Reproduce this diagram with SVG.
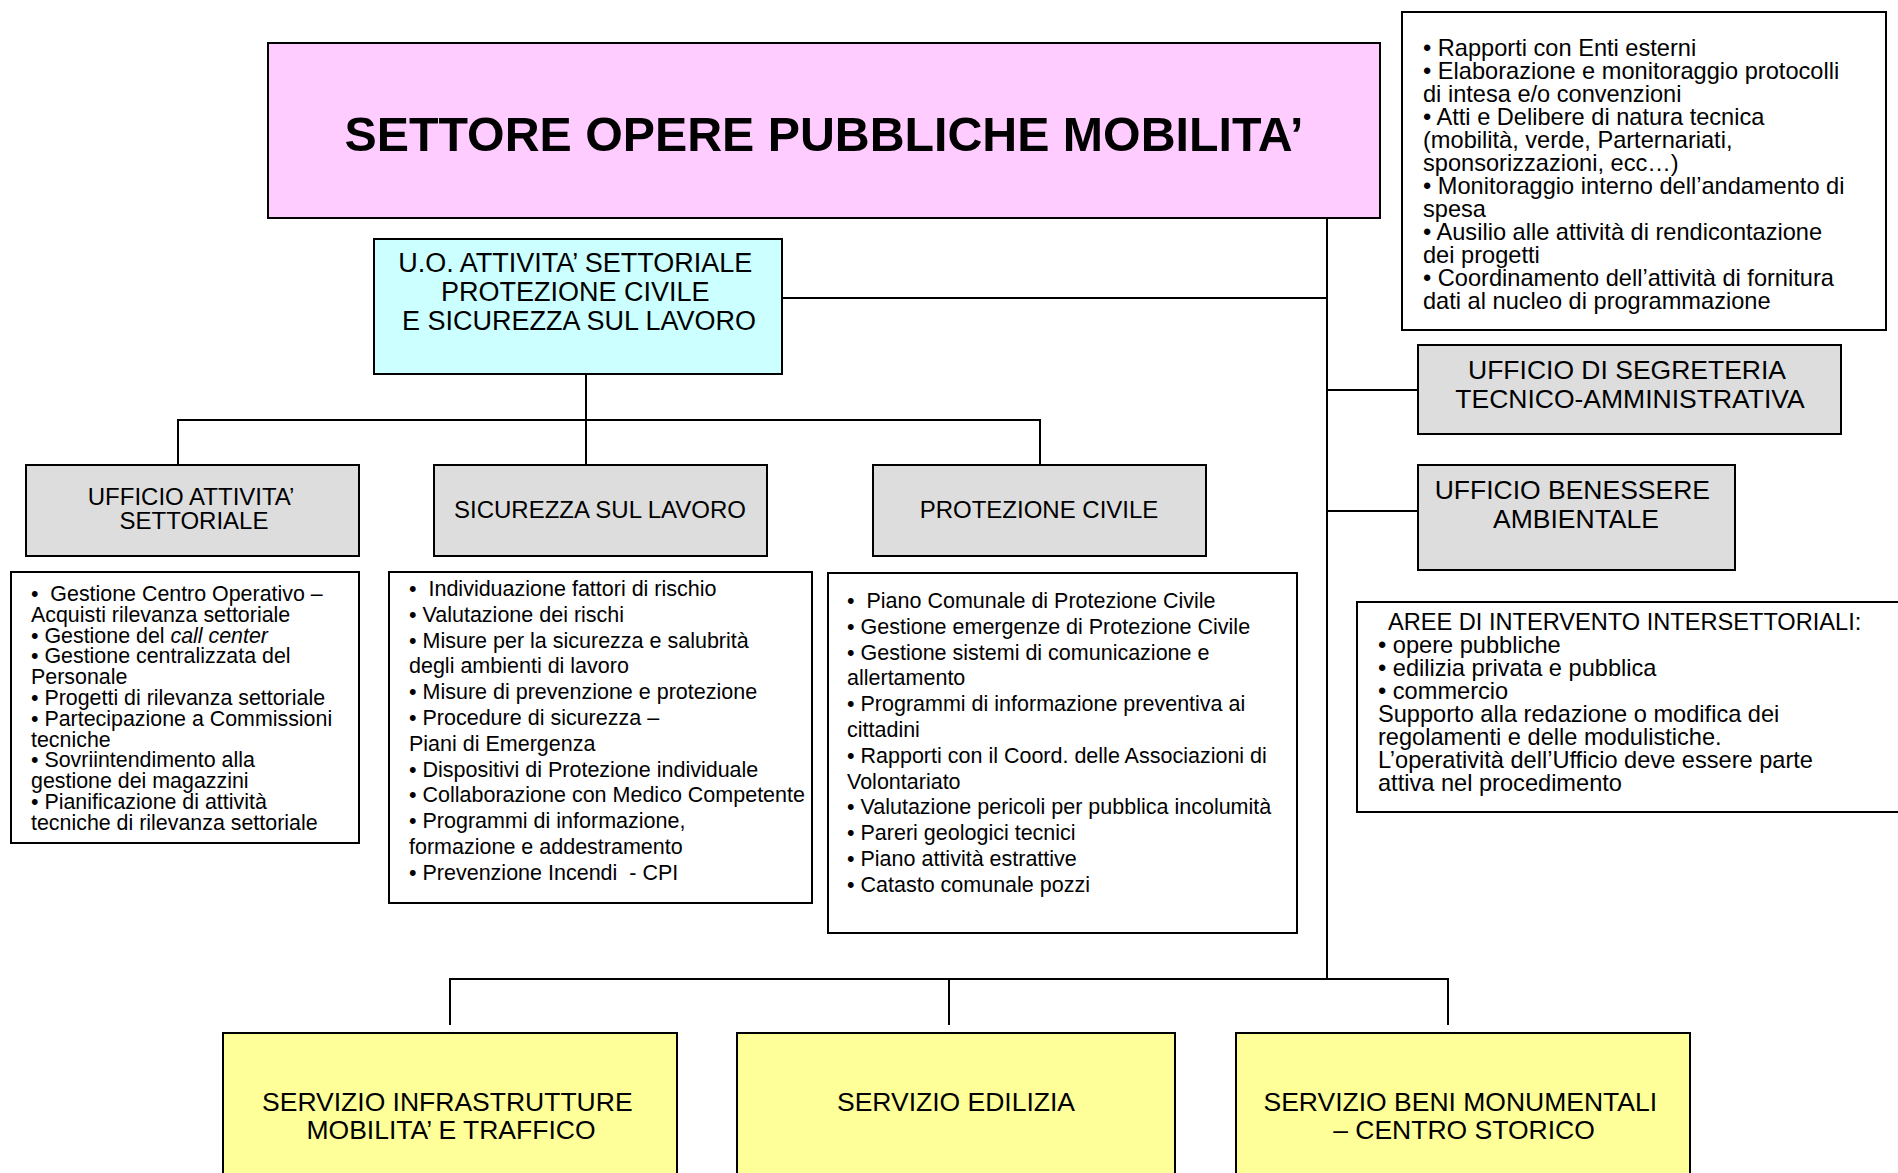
<svg xmlns="http://www.w3.org/2000/svg" width="1898" height="1173" viewBox="0 0 1898 1173">
<style>
text{font-family:"Liberation Sans",Arial,sans-serif;fill:#000}
.box{stroke:#000;stroke-width:2}
.pink{fill:#FFCCFF}
.cyan{fill:#CCFFFF}
.gray{fill:#DDDDDD}
.yellow{fill:#FFFF99}
.white{fill:#FFFFFF}
.title{font-size:48.3px;font-weight:bold;text-anchor:middle}
.head{font-size:26.5px;text-anchor:middle}
.uo{font-size:27px;text-anchor:middle}
.sub{font-size:24px;text-anchor:middle}
.b21{font-size:21.4px}
.b215{font-size:21.5px}
.b24{font-size:23.6px}
.conn line{stroke:#000;stroke-width:2}
</style>
<g id="connectors" class="conn">
<line x1="1327" y1="218" x2="1327" y2="979"/>
<line x1="782" y1="298" x2="1327" y2="298"/>
<line x1="1327" y1="390" x2="1417" y2="390"/>
<line x1="1327" y1="511" x2="1417" y2="511"/>
<line x1="586" y1="374" x2="586" y2="420"/>
<line x1="177" y1="420" x2="1041" y2="420"/>
<line x1="178" y1="420" x2="178" y2="465"/>
<line x1="586" y1="420" x2="586" y2="465"/>
<line x1="1040" y1="420" x2="1040" y2="465"/>
<line x1="449" y1="979" x2="1449" y2="979"/>
<line x1="450" y1="979" x2="450" y2="1025"/>
<line x1="949" y1="979" x2="949" y2="1025"/>
<line x1="1448" y1="979" x2="1448" y2="1025"/>
</g>
<g id="settore">
<rect class="box pink" x="268" y="43" width="1112" height="175"/>
<text class="title" x="824" y="151">SETTORE OPERE PUBBLICHE MOBILITA’</text>
</g>
<g id="compiti-settore">
<rect class="box white" x="1402" y="12" width="484" height="318"/>
<text class="b24" x="1423" y="56">
<tspan x="1423" y="56">• Rapporti con Enti esterni</tspan>
<tspan x="1423" y="79">• Elaborazione e monitoraggio protocolli</tspan>
<tspan x="1423" y="102">di intesa e/o convenzioni</tspan>
<tspan x="1423" y="125">• Atti e Delibere di natura tecnica</tspan>
<tspan x="1423" y="148">(mobilità, verde, Parternariati,</tspan>
<tspan x="1423" y="171">sponsorizzazioni, ecc…)</tspan>
<tspan x="1423" y="194">• Monitoraggio interno dell’andamento di</tspan>
<tspan x="1423" y="217">spesa</tspan>
<tspan x="1423" y="240">• Ausilio alle attività di rendicontazione</tspan>
<tspan x="1423" y="263">dei progetti</tspan>
<tspan x="1423" y="286">• Coordinamento dell’attività di fornitura</tspan>
<tspan x="1423" y="309">dati al nucleo di programmazione</tspan>
</text>
</g>
<g id="uo-attivita">
<rect class="box cyan" x="374" y="239" width="408" height="135"/>
<text class="uo" x="579" y="272">
<tspan x="579" y="272">U.O. ATTIVITA’ SETTORIALE</tspan>
<tspan x="579" y="301">PROTEZIONE CIVILE</tspan>
<tspan x="579" y="330">E SICUREZZA SUL LAVORO</tspan>
</text>
</g>
<g id="segreteria">
<rect class="box gray" x="1418" y="345" width="423" height="89"/>
<text class="head" x="1630" y="379">
<tspan x="1630" y="379">UFFICIO DI SEGRETERIA</tspan>
<tspan x="1630" y="408">TECNICO-AMMINISTRATIVA</tspan>
</text>
</g>
<g id="benessere">
<rect class="box gray" x="1418" y="465" width="317" height="105"/>
<text class="head" x="1576" y="499">
<tspan x="1576" y="499">UFFICIO BENESSERE</tspan>
<tspan x="1576" y="528">AMBIENTALE</tspan>
</text>
</g>
<g id="aree">
<rect class="box white" x="1357" y="602" width="560" height="210"/>
<text class="b24" x="1378" y="630">
<tspan x="1388" y="630">AREE DI INTERVENTO INTERSETTORIALI:</tspan>
<tspan x="1378" y="653">• opere pubbliche</tspan>
<tspan x="1378" y="676">• edilizia privata e pubblica</tspan>
<tspan x="1378" y="699">• commercio</tspan>
<tspan x="1378" y="722">Supporto alla redazione o modifica dei</tspan>
<tspan x="1378" y="745">regolamenti e delle modulistiche.</tspan>
<tspan x="1378" y="768">L’operatività dell’Ufficio deve essere parte</tspan>
<tspan x="1378" y="791">attiva nel procedimento</tspan>
</text>
</g>
<g id="ufficio-attivita">
<rect class="box gray" x="26" y="465" width="333" height="91"/>
<text class="sub" x="194" y="505">
<tspan x="194" y="505">UFFICIO ATTIVITA’</tspan>
<tspan x="194" y="529">SETTORIALE</tspan>
</text>
</g>
<g id="sicurezza">
<rect class="box gray" x="434" y="465" width="333" height="91"/>
<text class="sub" x="600" y="518">SICUREZZA SUL LAVORO</text>
</g>
<g id="protezione">
<rect class="box gray" x="873" y="465" width="333" height="91"/>
<text class="sub" x="1039" y="518">PROTEZIONE CIVILE</text>
</g>
<g id="compiti-ufficio-attivita">
<rect class="box white" x="11" y="572" width="348" height="271"/>
<text class="b21" x="31" y="601">
<tspan x="31" y="601">• &#160;Gestione Centro Operativo –</tspan>
<tspan x="31" y="621.8">Acquisti rilevanza settoriale</tspan>
<tspan x="31" y="642.6">• Gestione del <tspan font-style="italic">call center</tspan></tspan>
<tspan x="31" y="663.4">• Gestione centralizzata del</tspan>
<tspan x="31" y="684.2">Personale</tspan>
<tspan x="31" y="705">• Progetti di rilevanza settoriale</tspan>
<tspan x="31" y="725.8">• Partecipazione a Commissioni</tspan>
<tspan x="31" y="746.6">tecniche</tspan>
<tspan x="31" y="767.4">• Sovriintendimento alla</tspan>
<tspan x="31" y="788.2">gestione dei magazzini</tspan>
<tspan x="31" y="809">• Pianificazione di attività</tspan>
<tspan x="31" y="829.8">tecniche di rilevanza settoriale</tspan>
</text>
</g>
<g id="compiti-sicurezza">
<rect class="box white" x="389" y="572" width="423" height="331"/>
<text class="b215" x="409" y="596">
<tspan x="409" y="596">• &#160;Individuazione fattori di rischio</tspan>
<tspan x="409" y="621.8">• Valutazione dei rischi</tspan>
<tspan x="409" y="647.6">• Misure per la sicurezza e salubrità</tspan>
<tspan x="409" y="673.4">degli ambienti di lavoro</tspan>
<tspan x="409" y="699.2">• Misure di prevenzione e protezione</tspan>
<tspan x="409" y="725">• Procedure di sicurezza –</tspan>
<tspan x="409" y="750.8">Piani di Emergenza</tspan>
<tspan x="409" y="776.6">• Dispositivi di Protezione individuale</tspan>
<tspan x="409" y="802.4">• Collaborazione con Medico Competente</tspan>
<tspan x="409" y="828.2">• Programmi di informazione,</tspan>
<tspan x="409" y="854">formazione e addestramento</tspan>
<tspan x="409" y="879.8">• Prevenzione Incendi &#160;- CPI</tspan>
</text>
</g>
<g id="compiti-protezione">
<rect class="box white" x="828" y="573" width="469" height="360"/>
<text class="b215" x="847" y="608">
<tspan x="847" y="608">• &#160;Piano Comunale di Protezione Civile</tspan>
<tspan x="847" y="633.8">• Gestione emergenze di Protezione Civile</tspan>
<tspan x="847" y="659.6">• Gestione sistemi di comunicazione e</tspan>
<tspan x="847" y="685.4">allertamento</tspan>
<tspan x="847" y="711.2">• Programmi di informazione preventiva ai</tspan>
<tspan x="847" y="737">cittadini</tspan>
<tspan x="847" y="762.8">• Rapporti con il Coord. delle Associazioni di</tspan>
<tspan x="847" y="788.6">Volontariato</tspan>
<tspan x="847" y="814.4">• Valutazione pericoli per pubblica incolumità</tspan>
<tspan x="847" y="840.2">• Pareri geologici tecnici</tspan>
<tspan x="847" y="866">• Piano attività estrattive</tspan>
<tspan x="847" y="891.8">• Catasto comunale pozzi</tspan>
</text>
</g>
<g id="servizio-infrastrutture">
<rect class="box yellow" x="223" y="1033" width="454" height="160"/>
<text class="head" x="451" y="1111">
<tspan x="451" y="1111">SERVIZIO INFRASTRUTTURE</tspan>
<tspan x="451" y="1139">MOBILITA’ E TRAFFICO</tspan>
</text>
</g>
<g id="servizio-edilizia">
<rect class="box yellow" x="737" y="1033" width="438" height="160"/>
<text class="head" x="956" y="1111">SERVIZIO EDILIZIA</text>
</g>
<g id="servizio-beni">
<rect class="box yellow" x="1236" y="1033" width="454" height="160"/>
<text class="head" x="1464" y="1111">
<tspan x="1464" y="1111">SERVIZIO BENI MONUMENTALI</tspan>
<tspan x="1464" y="1139">– CENTRO STORICO</tspan>
</text>
</g>
</svg>
